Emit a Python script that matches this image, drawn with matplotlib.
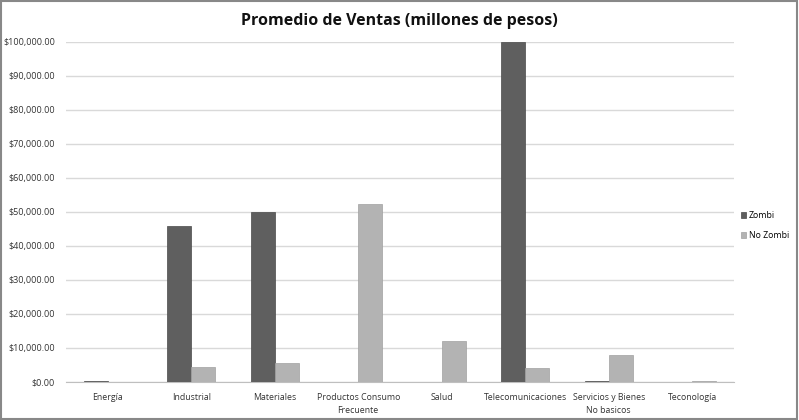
import matplotlib
matplotlib.use("Agg")
import matplotlib.pyplot as plt
import numpy as np
from matplotlib.ticker import FuncFormatter, MultipleLocator

categories = ["Energía", "Industrial", "Materiales", "Productos Consumo\nFrecuente",
              "Salud", "Telecomunicaciones", "Servicios y Bienes\nNo basicos", "Teconología"]
zombi = [300, 45900, 50000, 0, 0, 100000, 200, 0]
no_zombi = [0, 4500, 5600, 52300, 12000, 4100, 7900, 150]

plt.rcParams["font.family"] = ["Open Sans", "DejaVu Sans"]

fig = plt.figure(figsize=(7.99, 4.2), dpi=100)
ax = fig.add_axes([66 / 799, 38 / 420, 668 / 799, 340 / 420])

x = np.arange(len(categories))
w = 0.29
ax.bar(x - w / 2, zombi, w, color="#5f5f5f", edgecolor="#4a4a4a", linewidth=0.5, label="Zombi", zorder=3)
ax.bar(x + w / 2, no_zombi, w, color="#b3b3b3", edgecolor="#a0a0a0", linewidth=0.5, label="No Zombi", zorder=3)

ax.set_xlim(-0.5, len(categories) - 0.5)
ax.set_ylim(0, 100000)
ax.yaxis.set_major_locator(MultipleLocator(10000))
ax.yaxis.set_major_formatter(FuncFormatter(lambda v, p: f"${v:,.2f}"))
ax.set_xticks(x)
ax.set_xticklabels(categories, fontsize=6.3, color="#333333", linespacing=1.5)
ax.tick_params(axis="y", labelsize=6.5, colors="#333333", length=0, pad=8)
ax.tick_params(axis="x", length=0, pad=8)
ax.grid(axis="y", color="#d9d9d9", linewidth=1, zorder=0)
for s in ["top", "right", "left"]:
    ax.spines[s].set_visible(False)
ax.spines["bottom"].set_color("#bfbfbf")

fig.suptitle("Promedio de Ventas (millones de pesos)", fontsize=11.5, fontweight="bold",
             x=0.5, y=0.968, color="#111111")

ax.legend(loc="center left", bbox_to_anchor=(0.999, 0.46), frameon=False, fontsize=6.3,
          handlelength=0.6, handleheight=0.6, labelspacing=1.3, handletextpad=0.3)

fig.patches.append(plt.Rectangle((0.001, 0.002), 0.997, 0.995, transform=fig.transFigure,
                                 fill=False, edgecolor="#888888", linewidth=1.5))

fig.savefig("out.png", dpi=100)
